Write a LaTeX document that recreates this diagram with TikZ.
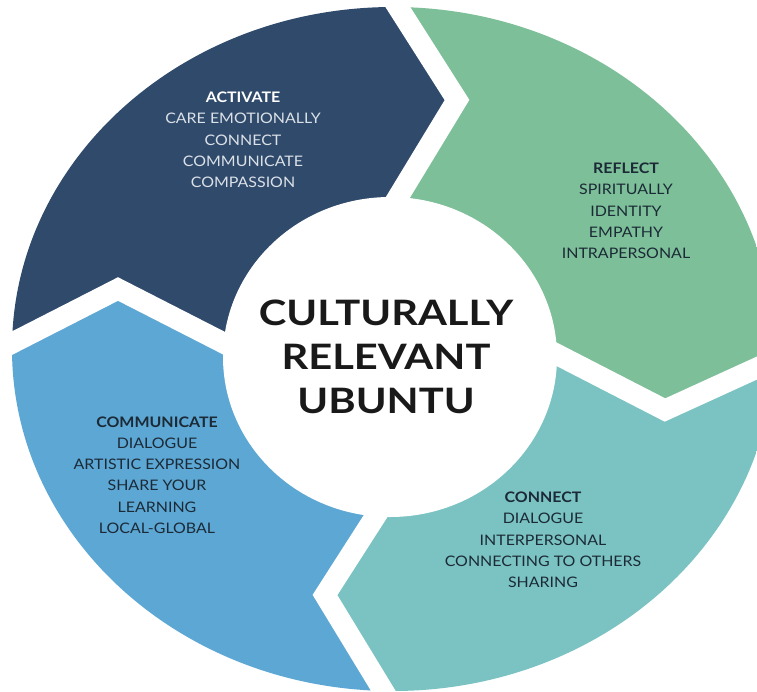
\documentclass[tikz,border=0pt]{standalone}
\usepackage{fontspec}
\setmainfont{Lato}
\newfontfamily\segfont[FakeStretch=1.1]{Lato}
\newfontfamily\titlefont[FakeStretch=1.19]{Lato}
\definecolor{cActivate}{HTML}{2F4A6B}
\definecolor{cReflect}{HTML}{7DBF98}
\definecolor{cConnect}{HTML}{7BC3C3}
\definecolor{cCommun}{HTML}{5DA7D4}
\definecolor{txtLight}{HTML}{DCE1E8}
\definecolor{txtDark}{HTML}{1B2A36}
\tikzset{
  segfill/.style={fill=#1},
  gapline/.style={draw=white, line width=21pt, line join=miter, line cap=butt},
  segtext/.style={align=center, inner sep=0pt, font=\segfont\fontsize{14.5}{21.3}\selectfont},
  titletext/.style={align=center, inner sep=0pt, text=black!90, font=\titlefont\bfseries\fontsize{35}{44}\selectfont},
}
\begin{document}
\begin{tikzpicture}[x=1pt,y=-1pt]
\useasboundingbox (0,0) rectangle (757,691);
\fill[white] (0,0) rectangle (757,691);
\coordinate (C) at (390,349);
% boundary 1 (top)
\coordinate (b1in) at (372,240);
\coordinate (b1t) at (457,100);
\coordinate (b1o) at (387,-10);
% boundary 2 (right)
\coordinate (b2in) at (525,338);
\coordinate (b2t) at (665,410);
\coordinate (b2o) at (803,347);
% boundary 3 (bottom)
\coordinate (b3in) at (400,478);
\coordinate (b3t) at (325,595);
\coordinate (b3o) at (398,715);
% boundary 4 (left)
\coordinate (b4in) at (255,359);
\coordinate (b4t) at (118,289);
\coordinate (b4o) at (-19,359);
\begin{scope}
  \clip (393,349) ellipse [x radius=381, y radius=342];
  \fill[segfill=cActivate] (C) -- (b4in) -- (b4t) -- (b4o) -- (-60,-60) -- (b1o) -- (b1t) -- (b1in) -- cycle;
  \fill[segfill=cReflect] (C) -- (b1in) -- (b1t) -- (b1o) -- (820,-60) -- (b2o) -- (b2t) -- (b2in) -- cycle;
  \fill[segfill=cConnect] (C) -- (b2in) -- (b2t) -- (b2o) -- (820,760) -- (b3o) -- (b3t) -- (b3in) -- cycle;
  \fill[segfill=cCommun] (C) -- (b3in) -- (b3t) -- (b3o) -- (-60,760) -- (b4o) -- (b4t) -- (b4in) -- cycle;
\end{scope}
\draw[gapline] (b1in) -- (b1t) -- (b1o);
\draw[gapline] (b2in) -- (b2t) -- (b2o);
\draw[gapline] (b3in) -- (b3t) -- (b3o);
\draw[gapline] (b4in) -- (b4t) -- (b4o);
\fill[white] (390,357) ellipse [x radius=167, y radius=160];
\node[titletext] (title) at (386,357) {CULTURALLY\\RELEVANT\\UBUNTU};
\node[segtext, text=txtLight] (act) at (243,140) {\textbf{\color{white}ACTIVATE}\\CARE EMOTIONALLY\\CONNECT\\COMMUNICATE\\COMPASSION};
\node[segtext, text=txtDark] (ref) at (626,211) {\textbf{REFLECT}\\SPIRITUALLY\\IDENTITY\\EMPATHY\\INTRAPERSONAL};
\node[segtext, text=txtDark] (com) at (157,475) {\textbf{COMMUNICATE}\\DIALOGUE\\ARTISTIC EXPRESSION\\SHARE YOUR\\LEARNING\\LOCAL-GLOBAL};
\node[segtext, text=txtDark] (con) at (543,540) {\textbf{CONNECT}\\DIALOGUE\\INTERPERSONAL\\CONNECTING TO OTHERS\\SHARING};
\end{tikzpicture}
\end{document}
